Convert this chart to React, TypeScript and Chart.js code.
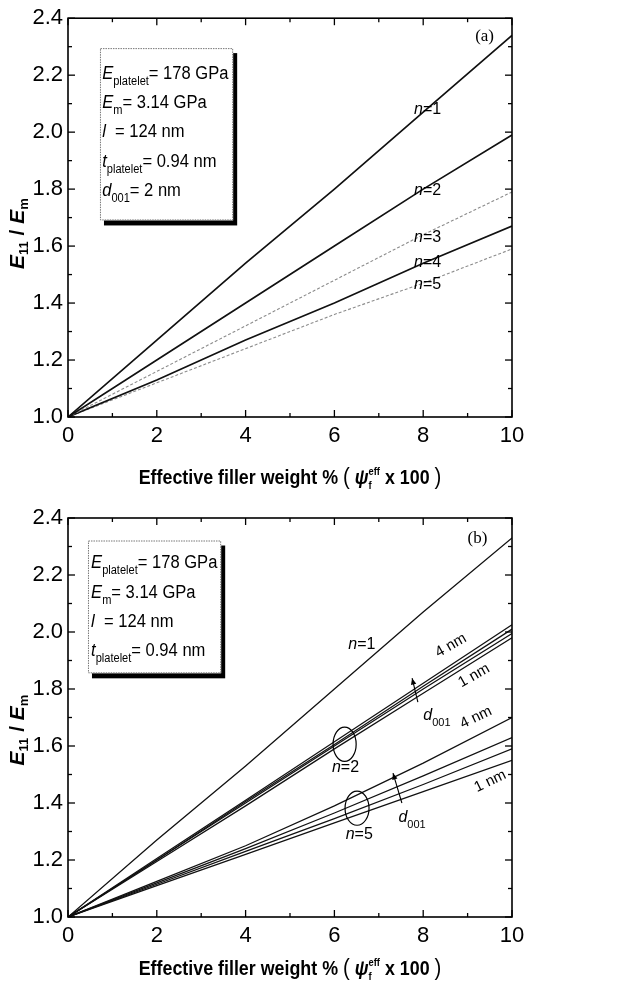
import React, { useEffect, useRef } from "react";
import { Chart, registerables } from "chart.js";

Chart.register(...registerables);

// ---------- data ----------
const X_POINTS = [0, 2, 4, 6, 8, 10];
const X_MAJOR_TICKS = [0, 2, 4, 6, 8, 10];
const X_MINOR_TICKS = [1, 3, 5, 7, 9];
const Y_MAJOR_TICKS = [1.0, 1.2, 1.4, 1.6, 1.8, 2.0, 2.2, 2.4];
const Y_MINOR_TICKS = [1.1, 1.3, 1.5, 1.7, 1.9, 2.1, 2.3];

// Panel (a): d001 = 2 nm, n = 1..5
const A_N1 = [1.0, 1.27, 1.54, 1.8, 2.07, 2.34];
const A_N2 = [1.0, 1.2, 1.4, 1.6, 1.8, 1.99];
const A_N3 = [1.0, 1.16, 1.32, 1.48, 1.64, 1.79];
const A_N4 = [1.0, 1.13, 1.27, 1.4, 1.54, 1.67];
const A_N5 = [1.0, 1.12, 1.24, 1.36, 1.47, 1.59];

// Panel (b): n = 1, and n = 2 / n = 5 for d001 = 4, 3, 2, 1 nm
const B_N1 = [1.0, 1.27, 1.53, 1.8, 2.07, 2.33];
const B_N2_4NM = [1.0, 1.205, 1.41, 1.615, 1.82, 2.025];
const B_N2_3NM = [1.0, 1.2, 1.405, 1.605, 1.81, 2.01];
const B_N2_2NM = [1.0, 1.2, 1.4, 1.6, 1.8, 1.995];
const B_N2_1NM = [1.0, 1.195, 1.39, 1.59, 1.785, 1.98];
const B_N5_4NM = [1.0, 1.125, 1.25, 1.39, 1.54, 1.7];
const B_N5_3NM = [1.0, 1.12, 1.24, 1.365, 1.495, 1.63];
const B_N5_2NM = [1.0, 1.115, 1.23, 1.345, 1.465, 1.59];
const B_N5_1NM = [1.0, 1.11, 1.22, 1.33, 1.44, 1.55];

// ---------- text helpers ----------
const SANS = '"Liberation Sans", Arial, Helvetica, sans-serif';
const SERIF = '"Liberation Serif", "Times New Roman", serif';

type Seg = {
  t: string;
  size?: number;
  bold?: boolean;
  italic?: boolean;
  family?: string;
  dy?: number;
  stack?: boolean;
};

function segFont(s: Seg, base: number) {
  return `${s.italic ? "italic " : ""}${s.bold ? "bold " : ""}${s.size || base}px ${s.family || SANS}`;
}

function richWidth(ctx: CanvasRenderingContext2D, segs: Seg[], base: number) {
  let cx = 0, prevX = 0, prevW = 0;
  for (const s of segs) {
    ctx.font = segFont(s, base);
    const w = ctx.measureText(s.t).width;
    if (s.stack) {
      cx = prevX + Math.max(prevW, w);
      prevW = Math.max(prevW, w);
    } else {
      prevX = cx; prevW = w; cx += w;
    }
  }
  return cx;
}

function drawRich(
  ctx: CanvasRenderingContext2D, x: number, y: number, segs: Seg[],
  base: number, sx = 1, align: "left" | "center" = "left", rot = 0
) {
  ctx.save();
  ctx.translate(x, y);
  if (rot) ctx.rotate(rot);
  ctx.scale(sx, 1);
  ctx.textBaseline = "alphabetic";
  ctx.textAlign = "left";
  ctx.fillStyle = "#000";
  let cx = align === "center" ? -richWidth(ctx, segs, base) / 2 : 0;
  let prevX = cx, prevW = 0;
  for (const s of segs) {
    ctx.font = segFont(s, base);
    const w = ctx.measureText(s.t).width;
    if (s.stack) {
      ctx.fillText(s.t, prevX, s.dy || 0);
      cx = prevX + Math.max(prevW, w);
      prevW = Math.max(prevW, w);
    } else {
      ctx.fillText(s.t, cx, s.dy || 0);
      prevX = cx; prevW = w; cx += w;
    }
  }
  ctx.restore();
}

// ---------- panel specs ----------
type Series = { values: number[]; color: string; width: number; dash?: number[] };
type Label = { x: number; y: number; segs: Seg[]; size: number; rot?: number };

type PanelSpec = {
  height: number;
  top: number;
  xAxisHeight: number;
  series: Series[];
  box: { x0: number; y0: number; x1: number; y1: number; lines: Seg[][]; textX: number; firstBaseline: number };
  tag: { x: number; y: number; text: string };
  labels: Label[];
  ellipses: { x: number; y: number; rx: number; ry: number }[];
  arrows: { x0: number; y0: number; x1: number; y1: number }[];
  xTitleOffset: number;
  yTitleShift: number;
};

const subSeg = (t: string): Seg => ({ t, size: 12, dy: 6 });

const legendA: Seg[][] = [
  [{ t: "E", italic: true }, subSeg("platelet"), { t: "= 178 GPa" }],
  [{ t: "E", italic: true }, subSeg("m"), { t: "= 3.14 GPa" }],
  [{ t: "l", italic: true }, { t: "  = 124 nm" }],
  [{ t: "t", italic: true }, subSeg("platelet"), { t: "= 0.94 nm" }],
  [{ t: "d", italic: true }, subSeg("001"), { t: "= 2 nm" }],
];
const legendB: Seg[][] = legendA.slice(0, 4);

const nLabel = (k: string): Seg[] => [{ t: "n", italic: true }, { t: "=" + k }];
const dLabel: Seg[] = [{ t: "d", italic: true }, { t: "001", size: 11, dy: 6 }];

const PANEL_A: PanelSpec = {
  height: 495,
  top: 17,
  xAxisHeight: 78,
  series: [
    { values: A_N1, color: "#111", width: 1.7 },
    { values: A_N2, color: "#111", width: 1.7 },
    { values: A_N3, color: "#8c8c8c", width: 1.1, dash: [3, 2] },
    { values: A_N4, color: "#111", width: 1.7 },
    { values: A_N5, color: "#8c8c8c", width: 1.1, dash: [3, 2] },
  ],
  box: { x0: 0.72, y0: 2.295, x1: 3.72, y1: 1.69, lines: legendA, textX: 0.77, firstBaseline: 2.187 },
  tag: { x: 9.17, y: 2.32, text: "(a)" },
  labels: [
    { x: 8.1, y: 2.064, segs: nLabel("1"), size: 16 },
    { x: 8.1, y: 1.78, segs: nLabel("2"), size: 16 },
    { x: 8.1, y: 1.616, segs: nLabel("3"), size: 16 },
    { x: 8.1, y: 1.525, segs: nLabel("4"), size: 16 },
    { x: 8.1, y: 1.45, segs: nLabel("5"), size: 16 },
  ],
  ellipses: [],
  arrows: [],
  xTitleOffset: 67,
  yTitleShift: 16,
};

const PANEL_B: PanelSpec = {
  height: 496,
  top: 23,
  xAxisHeight: 74,
  series: [
    { values: B_N1, color: "#111", width: 1.3 },
    { values: B_N2_4NM, color: "#111", width: 1.25 },
    { values: B_N2_3NM, color: "#111", width: 1.25 },
    { values: B_N2_2NM, color: "#111", width: 1.25 },
    { values: B_N2_1NM, color: "#111", width: 1.25 },
    { values: B_N5_4NM, color: "#111", width: 1.25 },
    { values: B_N5_3NM, color: "#111", width: 1.25 },
    { values: B_N5_2NM, color: "#111", width: 1.25 },
    { values: B_N5_1NM, color: "#111", width: 1.25 },
  ],
  box: { x0: 0.45, y0: 2.321, x1: 3.45, y1: 1.855, lines: legendB, textX: 0.52, firstBaseline: 2.223 },
  tag: { x: 9.0, y: 2.311, text: "(b)" },
  labels: [
    { x: 6.62, y: 1.94, segs: nLabel("1"), size: 16 },
    { x: 6.25, y: 1.51, segs: nLabel("2"), size: 16 },
    { x: 6.56, y: 1.273, segs: nLabel("5"), size: 16 },
    { x: 8.67, y: 1.94, segs: [{ t: "4 nm" }], size: 15, rot: -0.52 },
    { x: 9.19, y: 1.834, segs: [{ t: "1 nm" }], size: 15, rot: -0.52 },
    { x: 8.31, y: 1.69, segs: dLabel, size: 16 },
    { x: 9.23, y: 1.687, segs: [{ t: "4 nm" }], size: 15, rot: -0.45 },
    { x: 9.55, y: 1.463, segs: [{ t: "1 nm" }], size: 15, rot: -0.45 },
    { x: 7.75, y: 1.333, segs: dLabel, size: 16 },
  ],
  ellipses: [
    { x: 6.23, y: 1.606, rx: 0.26, ry: 0.06 },
    { x: 6.51, y: 1.382, rx: 0.27, ry: 0.06 },
  ],
  arrows: [
    { x0: 7.88, y0: 1.754, x1: 7.75, y1: 1.838 },
    { x0: 7.52, y0: 1.4, x1: 7.32, y1: 1.505 },
  ],
  xTitleOffset: 58,
  yTitleShift: 12.5,
};

const yTitle: Seg[] = [
  { t: "E", bold: true, italic: true },
  { t: "11", bold: true, size: 13, dy: 4 },
  { t: " / ", bold: true },
  { t: "E", bold: true, italic: true },
  { t: "m", bold: true, size: 13, dy: 4 },
];

const xTitle: Seg[] = [
  { t: "Effective filler weight % ", bold: true },
  { t: "(", size: 24 },
  { t: " ψ", bold: true, italic: true },
  { t: "f", bold: true, size: 11, dy: 5 },
  { t: "eff", bold: true, size: 11, dy: -9, stack: true },
  { t: " x 100 ", bold: true },
  { t: ")", size: 24 },
];

function makePlugin(spec: PanelSpec) {
  return {
    id: "decor",
    afterDatasetsDraw(chart: any) {
      const ctx: CanvasRenderingContext2D = chart.ctx;
      const { left, right, top, bottom } = chart.chartArea;
      const xs = chart.scales.x;
      const ys = chart.scales.y;
      const px = (v: number) => xs.getPixelForValue(v);
      const py = (v: number) => ys.getPixelForValue(v);

      ctx.save();
      // frame
      ctx.strokeStyle = "#000";
      ctx.lineWidth = 1.6;
      ctx.strokeRect(left, top, right - left, bottom - top);
      // inward ticks on all four sides
      ctx.lineWidth = 1.3;
      const tick = (x0: number, y0: number, x1: number, y1: number) => {
        ctx.beginPath(); ctx.moveTo(x0, y0); ctx.lineTo(x1, y1); ctx.stroke();
      };
      X_MAJOR_TICKS.forEach((v) => { const x = px(v); tick(x, bottom, x, bottom - 7); tick(x, top, x, top + 7); });
      X_MINOR_TICKS.forEach((v) => { const x = px(v); tick(x, bottom, x, bottom - 4); tick(x, top, x, top + 4); });
      Y_MAJOR_TICKS.forEach((v) => { const y = py(v); tick(left, y, left + 7, y); tick(right, y, right - 7, y); });
      Y_MINOR_TICKS.forEach((v) => { const y = py(v); tick(left, y, left + 4, y); tick(right, y, right - 4, y); });

      // legend box with shadow
      const b = spec.box;
      const bx0 = px(b.x0), by0 = py(b.y0), bx1 = px(b.x1), by1 = py(b.y1);
      ctx.fillStyle = "#000";
      ctx.fillRect(bx0 + 4, by0 + 5, bx1 - bx0, by1 - by0);
      ctx.fillStyle = "#fff";
      ctx.fillRect(bx0, by0, bx1 - bx0, by1 - by0);
      ctx.strokeStyle = "#777";
      ctx.lineWidth = 1;
      ctx.setLineDash([1.5, 1]);
      ctx.strokeRect(bx0 + 0.5, by0 + 0.5, bx1 - bx0 - 1, by1 - by0 - 1);
      ctx.setLineDash([]);
      const tx = px(b.textX);
      const fb = py(b.firstBaseline);
      b.lines.forEach((segs, i) => drawRich(ctx, tx, fb + i * 29.25, segs, 18, 0.92));

      // panel tag
      ctx.fillStyle = "#000";
      ctx.font = `17px ${SERIF}`;
      ctx.textAlign = "left";
      ctx.textBaseline = "alphabetic";
      ctx.fillText(spec.tag.text, px(spec.tag.x), py(spec.tag.y));

      // labels
      spec.labels.forEach((l) => {
        ctx.save();
        ctx.translate(px(l.x), py(l.y));
        drawRich(ctx, 0, 0, l.segs, l.size, 1, "center", l.rot || 0);
        ctx.restore();
      });

      // ellipses
      ctx.strokeStyle = "#000";
      ctx.lineWidth = 1.2;
      spec.ellipses.forEach((e) => {
        const cx = px(e.x), cy = py(e.y);
        const rx = px(e.x + e.rx) - cx, ry = cy - py(e.y + e.ry);
        ctx.beginPath();
        ctx.ellipse(cx, cy, rx, ry, 0, 0, Math.PI * 2);
        ctx.stroke();
      });

      // arrows
      spec.arrows.forEach((a) => {
        const x0 = px(a.x0), y0 = py(a.y0), x1 = px(a.x1), y1 = py(a.y1);
        ctx.lineWidth = 1.1;
        ctx.beginPath(); ctx.moveTo(x0, y0); ctx.lineTo(x1, y1); ctx.stroke();
        const ang = Math.atan2(y1 - y0, x1 - x0);
        const L = 7, W = 0.4;
        ctx.fillStyle = "#000";
        ctx.beginPath();
        ctx.moveTo(x1, y1);
        ctx.lineTo(x1 - L * Math.cos(ang - W), y1 - L * Math.sin(ang - W));
        ctx.lineTo(x1 - L * Math.cos(ang + W), y1 - L * Math.sin(ang + W));
        ctx.closePath();
        ctx.fill();
      });

      // axis titles
      drawRich(ctx, (left + right) / 2, bottom + spec.xTitleOffset, xTitle, 21, 0.85, "center");
      drawRich(ctx, 24, (top + bottom) / 2 + spec.yTitleShift, yTitle, 21, 1, "center", -Math.PI / 2);
      ctx.restore();
    },
  };
}

function buildChart(canvas: HTMLCanvasElement, spec: PanelSpec) {
  const datasets = spec.series.map((s, k) => ({
    label: "s" + k,
    data: X_POINTS.map((x, i) => ({ x, y: s.values[i] })),
    borderColor: s.color,
    borderWidth: s.width,
    borderDash: s.dash || [],
    pointRadius: 0,
    fill: false,
    tension: 0,
  }));
  return new Chart(canvas, {
    type: "line",
    data: { datasets },
    options: {
      animation: false,
      responsive: false,
      devicePixelRatio: 1,
      layout: { padding: { left: 0, right: 115, top: spec.top, bottom: 0 } },
      plugins: { legend: { display: false }, tooltip: { enabled: false }, title: { display: false } },
      scales: {
        x: {
          type: "linear",
          min: 0,
          max: 10,
          afterBuildTicks: (s: any) => { s.ticks = X_MAJOR_TICKS.map((v) => ({ value: v })); },
          afterFit: (s: any) => { s.height = spec.xAxisHeight; },
          grid: { display: false, drawTicks: false, tickLength: 0 },
          border: { display: false },
          ticks: { color: "#000", padding: 6, maxRotation: 0, font: { family: SANS, size: 22 }, callback: (v: any) => String(v) },
        },
        y: {
          type: "linear",
          min: 1.0,
          max: 2.4,
          afterBuildTicks: (s: any) => { s.ticks = Y_MAJOR_TICKS.map((v) => ({ value: v })); },
          afterFit: (s: any) => { s.width = 68; },
          grid: { display: false, drawTicks: false, tickLength: 0 },
          border: { display: false },
          ticks: { color: "#000", padding: 5, font: { family: SANS, size: 22 }, callback: (v: any) => Number(v).toFixed(1) },
        },
      },
    } as any,
    plugins: [makePlugin(spec)],
  });
}

function Panel({ spec, offset }: { spec: PanelSpec; offset: number }) {
  const ref = useRef<HTMLCanvasElement | null>(null);
  useEffect(() => {
    if (!ref.current) return;
    const chart = buildChart(ref.current, spec);
    return () => chart.destroy();
  }, [spec]);
  return (
    <canvas
      ref={ref}
      width={627}
      height={spec.height}
      style={{ position: "absolute", left: 0, top: offset, width: 627, height: spec.height, display: "block" }}
    />
  );
}

export default function App() {
  return (
    <div style={{ position: "absolute", left: 0, top: 0, width: 627, height: 991, background: "#fff" }}>
      <Panel spec={PANEL_A} offset={0} />
      <Panel spec={PANEL_B} offset={495} />
    </div>
  );
}
